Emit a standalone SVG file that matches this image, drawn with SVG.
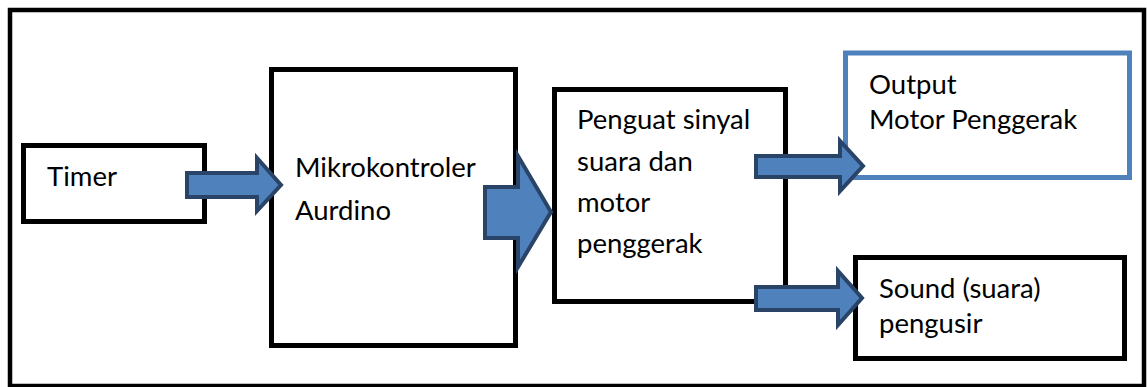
<svg xmlns="http://www.w3.org/2000/svg" width="1147" height="387" viewBox="0 0 1147 387">
<style>
  .box { fill: #ffffff; stroke: #000000; stroke-width: 5; }
  .blue { fill: #ffffff; stroke: #4F81BD; stroke-width: 5; }
  .arrow { fill: #4F81BD; stroke: #2A4468; stroke-width: 4; stroke-linejoin: miter; }
  .t { font-family: Lato, "Liberation Sans", sans-serif; font-size: 27.5px; fill: #000000; }
</style>
<rect x="0" y="0" width="1147" height="387" fill="#ffffff"/>
<rect id="frame" x="10" y="10" width="1134" height="376" fill="none" stroke="#000000" stroke-width="4.5"/>
<g id="timer">
  <rect class="box" x="23.5" y="145.5" width="181" height="76"/>
  <text class="t" x="47" y="186">Timer</text>
</g>
<g id="mikrokontroler">
  <rect class="box" x="271.5" y="69.5" width="244" height="276"/>
  <text class="t" x="295" y="177">Mikrokontroler</text>
  <text class="t" x="295" y="220">Aurdino</text>
</g>
<g id="penguat">
  <rect class="box" x="554.5" y="89.5" width="231" height="212"/>
  <text class="t" x="577" y="129">Penguat sinyal</text>
  <text class="t" x="577" y="171">suara dan</text>
  <text class="t" x="577" y="212">motor</text>
  <text class="t" x="577" y="253">penggerak</text>
</g>
<g id="output">
  <rect class="blue" x="845.5" y="53" width="284" height="124.5"/>
  <text class="t" x="869" y="94">Output</text>
  <text class="t" x="869" y="129">Motor Penggerak</text>
</g>
<g id="sound">
  <rect class="box" x="855.5" y="257.5" width="269" height="101"/>
  <text class="t" x="879" y="298">Sound (suara)</text>
  <text class="t" x="879" y="333">pengusir</text>
</g>
<g id="connectors">
  <path class="arrow" d="M187,173 L257,173 L257,158 L281,185 L257,211 L257,197 L187,197 Z"/>
  <path class="arrow" d="M485,187 L518,187 L518,156 L551,212 L518,267 L518,238 L485,238 Z"/>
  <path class="arrow" d="M756,156 L840,156 L840,141 L863,166 L840,191 L840,177 L756,177 Z"/>
  <path class="arrow" d="M756,287 L838,287 L838,271 L862,298 L838,325 L838,310 L756,310 Z"/>
</g>
</svg>
